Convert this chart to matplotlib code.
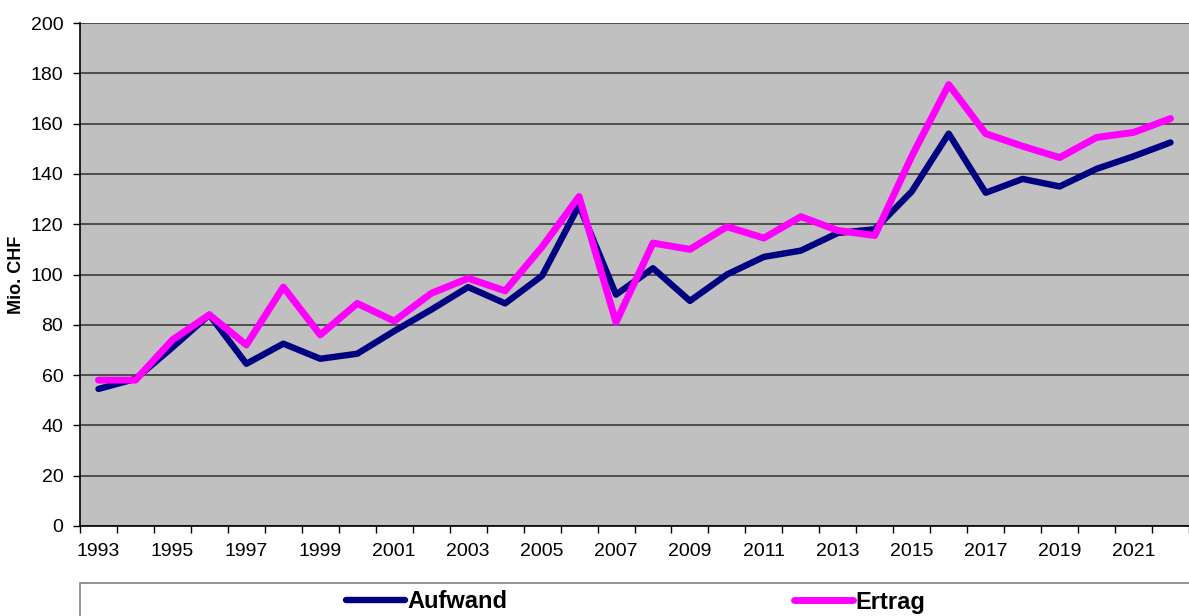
import numpy as np
import matplotlib
matplotlib.use("Agg")
import matplotlib.pyplot as plt
from matplotlib.patches import Rectangle

years = list(range(1993, 2023))
aufwand = [54.5, 58.5, 71, 84, 64.5, 72.5, 66.5, 68.5, 77.5, 86, 95, 88.5, 99.5, 127.5,
           92, 102.5, 89.5, 100, 107, 109.5, 116.5, 118, 133, 156, 132.5, 138, 135, 142, 147, 152.5]
ertrag = [58, 58, 74, 84, 72, 95, 76, 88.5, 81.5, 92.5, 98.5, 93.5, 111, 131,
          81, 112.5, 110, 119, 114.5, 123, 117.5, 115.5, 147, 175.5, 156, 151, 146.5, 154.5, 156.5, 162]
tick_years = years[::2]

plt.rcParams['font.family'] = ['Liberation Sans', 'DejaVu Sans']

fig = plt.figure(figsize=(11.89, 6.16), dpi=100)
ax = fig.add_axes([80/1189, 1-526/616, 1-80/1189, (526-23)/616])
ax.set_facecolor('#c0c0c0')

x = np.arange(len(years))
ax.plot(x, aufwand, color='#000080', lw=4.6, solid_capstyle='round', solid_joinstyle='round', label='Aufwand')
ax.plot(x, ertrag, color='#ff00ff', lw=5.0, solid_capstyle='round', solid_joinstyle='round', label='Ertrag')

ax.set_xlim(-0.5, len(years) - 0.5)
ax.set_ylim(0, 200)
ax.set_yticks(range(0, 201, 20))
ax.yaxis.grid(True, color='#3a3a3a', lw=1.2)
ax.set_axisbelow(True)

ax.set_xticks(np.arange(len(years) + 1) - 0.5, minor=True)
ax.set_xticks(x[::2])
ax.set_xticklabels([str(y) for y in tick_years])
ax.tick_params(axis='x', which='major', length=0, labelsize=14, pad=12)
ax.tick_params(axis='x', which='minor', length=5, width=1, color='black')
ax.tick_params(axis='y', length=5, width=1, labelsize=14, pad=7)

for s in ['top', 'right']:
    ax.spines[s].set_visible(False)
ax.spines['left'].set_linewidth(1.2)
ax.spines['bottom'].set_linewidth(1.2)

ax.set_ylabel('Mio. CHF', fontsize=13, fontweight='bold', labelpad=4)

fig.patches.append(Rectangle((80/1189, -0.05), 1.0, 0.05 + 1 - 583/616, transform=fig.transFigure,
                             facecolor='white', edgecolor='#808080', lw=1.2))

handles, labels = ax.get_legend_handles_labels()
fig.legend(handles, labels, loc='center left', bbox_to_anchor=(346/1189, 1-602/616), ncol=2,
           frameon=False, handlelength=2.5, handletextpad=0.1, columnspacing=12.15,
           prop={'weight': 'bold', 'size': 17}, borderaxespad=0, borderpad=0)

fig.savefig('out.png', dpi=100)
